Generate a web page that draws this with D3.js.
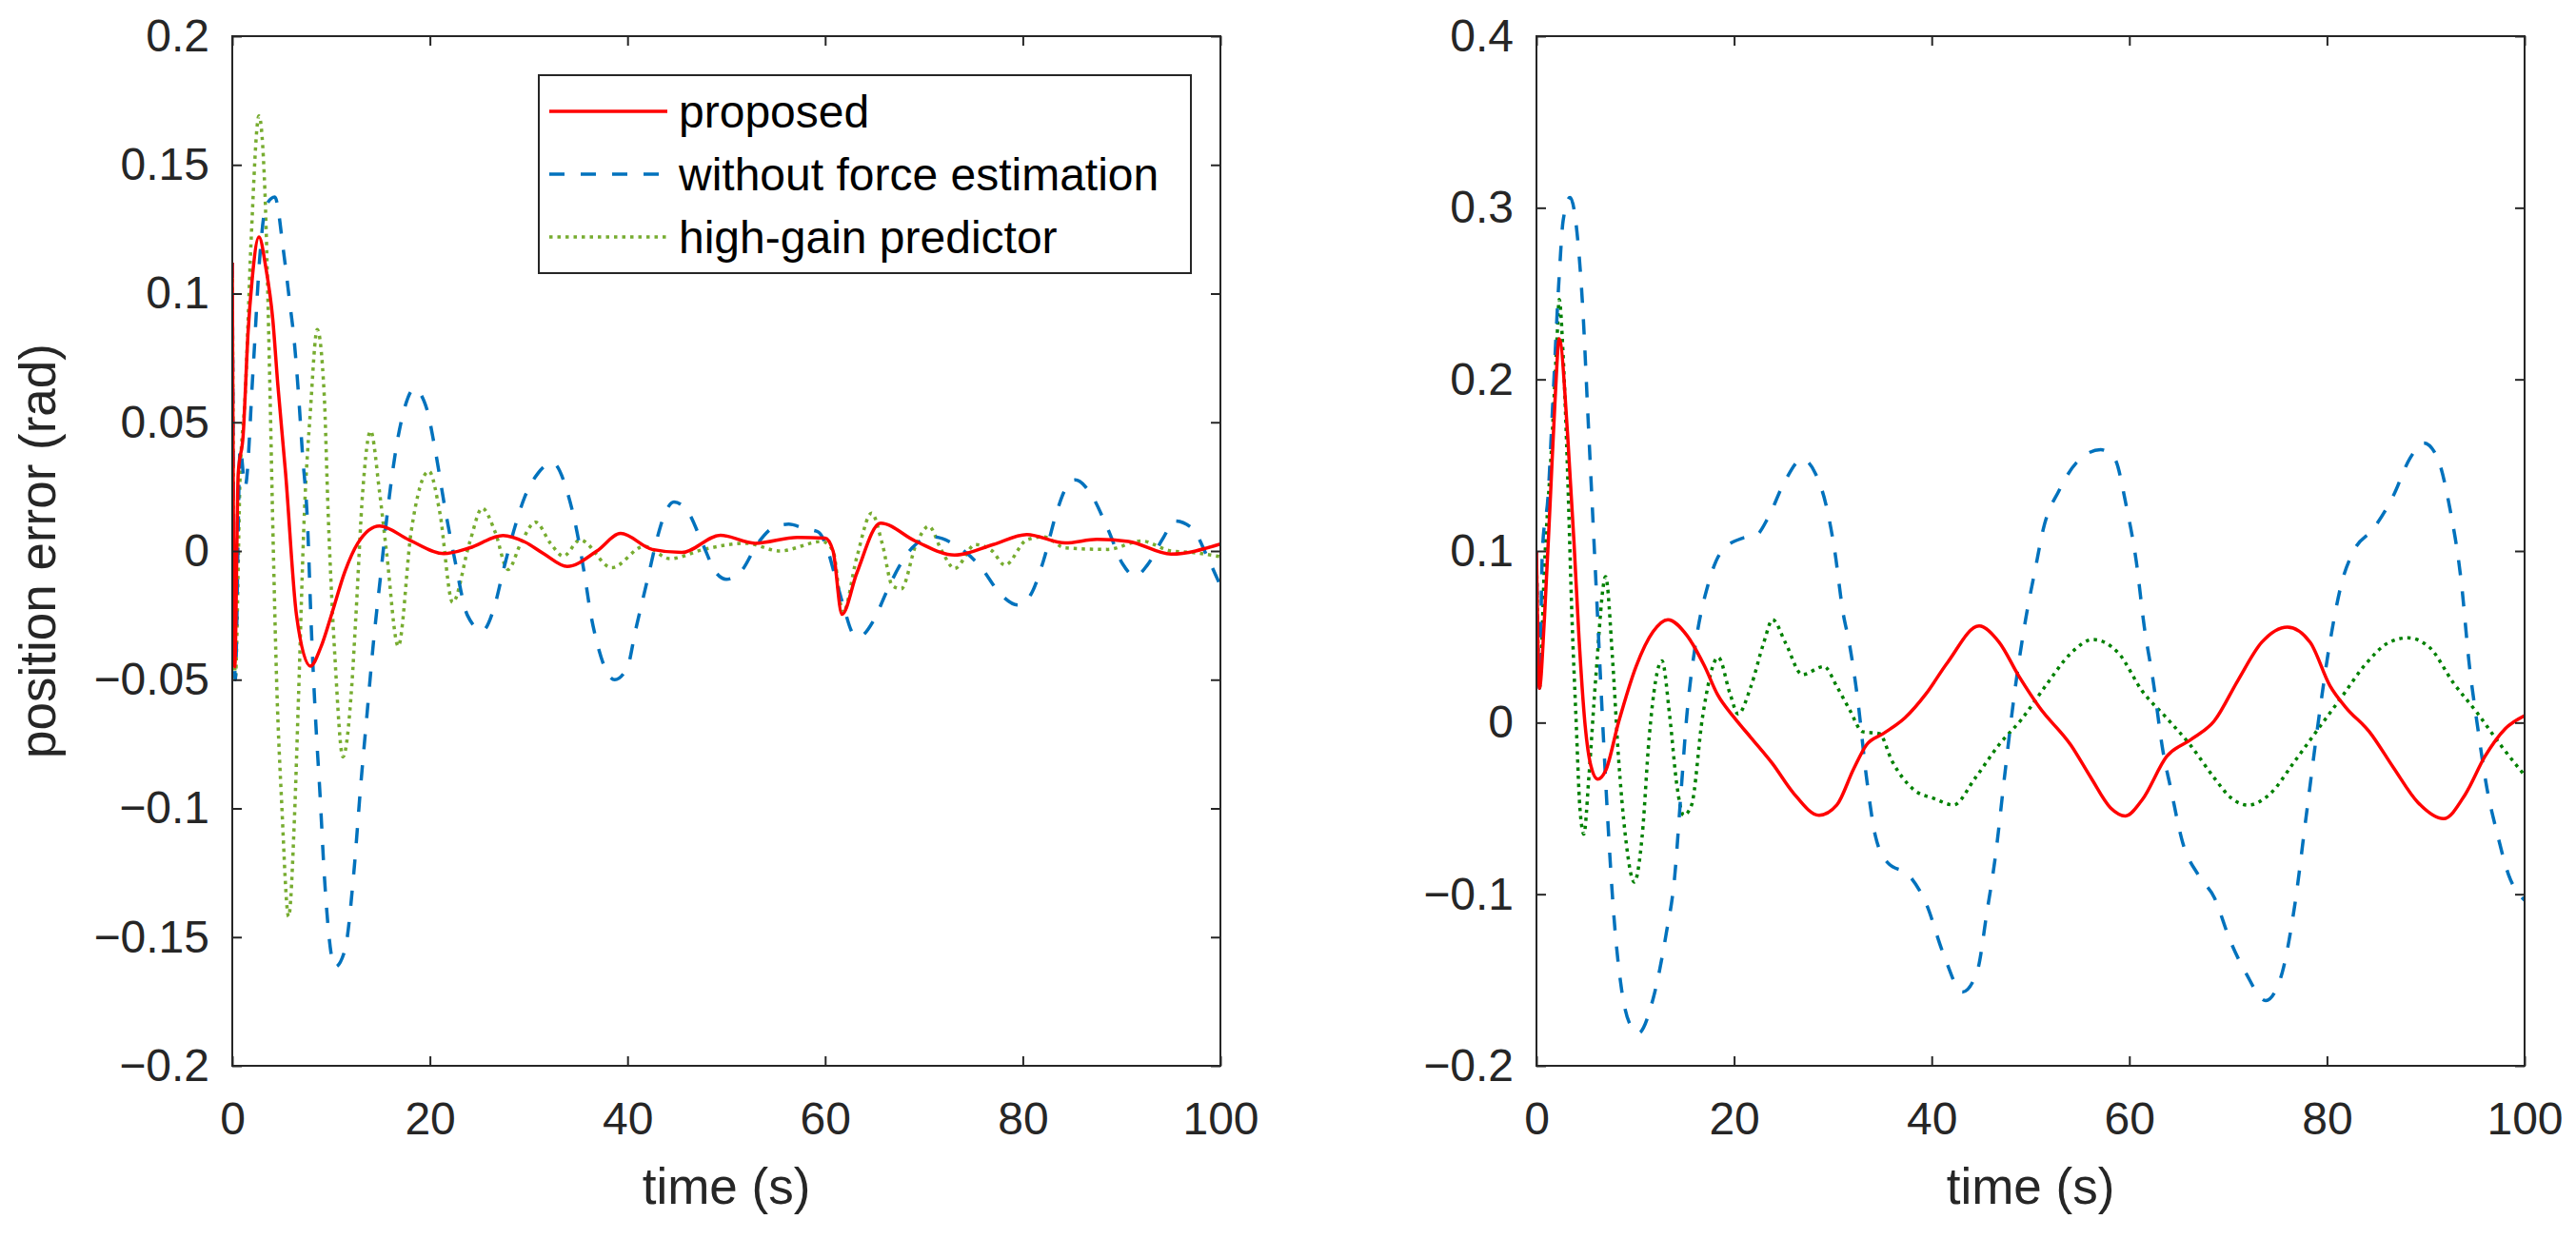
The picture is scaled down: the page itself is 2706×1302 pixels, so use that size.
<!DOCTYPE html>
<html>

<head>
    <meta charset="UTF-8">
    <title>Position error comparison</title>
    <script src="https://cdn.jsdelivr.net/npm/d3@7/dist/d3.min.js"></script>
    <style>
        body,
        html {
            margin: 0;
            padding: 0;
            background: #fff;
        }

        text {
            font-family: "Liberation Sans", Arial, sans-serif;
        }
    </style>
</head>

<body>
    <svg id="chart" width="2706" height="1302"></svg>

    <script>
        // series names (legend order)
        var seriesNames = ["proposed", "without force estimation", "high-gain predictor"];

        // left panel
        var leftProposedT = [0, 0.25, 0.6, 1.1, 1.6, 2.0, 2.7, 3.4, 4.1, 4.6, 5.4, 6.5, 7.9, 9.0, 10.1, 11.4, 12.7, 14.9, 17.9, 21.4, 24, 27.4, 29.6, 31.5, 33.9, 36.9, 39.3, 42.5, 45.5, 49.4, 52.9, 57.2, 60, 60.8, 61.7, 63.2, 65.6, 69.2, 73.1, 77, 80.4, 84.3, 87.5, 90.7, 95, 100];
        var leftProposedV = [0.112, -0.045, 0.03, 0.045, 0.085, 0.105, 0.122, 0.11, 0.09, 0.065, 0.03, -0.025, -0.0447, -0.037, -0.024, -0.008, 0.003, 0.0097, 0.0043, -0.001, 0.0012, 0.006, 0.0035, -0.001, -0.006, 0, 0.0068, 0.0006, -0.0006, 0.0061, 0.003, 0.0053, 0.005, 0.0, -0.0246, -0.0086, 0.0108, 0.0037, -0.0016, 0.0025, 0.0064, 0.0031, 0.0045, 0.0037, -0.0012, 0.0027];

        var leftNoEstT = [0, 0.3, 0.8, 1.3, 2.1, 2.8, 3.4, 4.3, 5.2, 5.8, 6.26, 6.7, 7.1, 7.6, 8, 8.4, 8.9, 9.3, 10.4, 11.4, 12.3, 13, 13.6, 14.3, 15.0, 15.7, 16.5, 17.4, 18.4, 19.7, 20.5, 21.6, 22.5, 23.8, 25.3, 26.5, 27.4, 28.5, 29.6, 30.9, 32.4, 33.9, 34.8, 35.6, 36.3, 36.9, 38.7, 40, 40.8, 42.1, 43, 43.8, 44.7, 46.2, 47.5, 49, 50, 51.6, 53.1, 55, 56.3, 58, 59.3, 60.2, 61, 61.9, 62.8, 63.4, 64.9, 66.2, 67.5, 68.8, 70.9, 73.1, 75.7, 77.8, 79.5, 80.8, 82.1, 83.4, 84.3, 85.3, 86.8, 88.6, 90.1, 91.4, 92.6, 94.2, 95.4, 97.2, 98.7, 100];
        var leftNoEstV = [0.112, -0.05, 0.04, 0.025, 0.07, 0.115, 0.134, 0.1375, 0.116, 0.097, 0.082, 0.061, 0.038, 0.012, -0.03, -0.063, -0.096, -0.125, -0.1616, -0.155, -0.125, -0.091, -0.065, -0.035, -0.01, 0.015, 0.038, 0.055, 0.063, 0.055, 0.04, 0.015, -0.003, -0.025, -0.031, -0.022, -0.008, 0.008, 0.021, 0.030, 0.0343, 0.023, 0.009, -0.008, -0.025, -0.0355, -0.050, -0.045, -0.031, -0.0098, 0.005, 0.0147, 0.019, 0.0147, 0.0037, -0.0086, -0.011, -0.0074, 0.0025, 0.0096, 0.0104, 0.0086, 0.0074, 0.001, -0.0098, -0.022, -0.032, -0.0334, -0.027, -0.016, -0.006, 0.0012, 0.0055, 0.0025, -0.006, -0.017, -0.021, -0.017, -0.0037, 0.0147, 0.024, 0.0276, 0.0227, 0.0086, -0.005, -0.0098, -0.0055, 0.005, 0.0117, 0.0086, -0.0025, -0.0135];

        var leftHighGainT = [0, 0.3, 0.8, 1.3, 1.9, 2.7, 3.3, 3.8, 4.1, 4.5, 5.0, 5.7, 6.3, 6.7, 7.3, 7.9, 8.6, 9.3, 9.7, 10.4, 11.2, 12.1, 12.5, 13.2, 14.0, 14.9, 15.6, 16.8, 18.1, 19.9, 21.0, 22.3, 24, 25.3, 26.6, 27.9, 29.2, 30.7, 32.2, 33.5, 35.2, 38.4, 41.7, 44.3, 47.7, 52, 55.4, 59.7, 60.8, 61.8, 63.2, 64.7, 65.8, 66.8, 67.7, 69.2, 70.5, 71.8, 73.1, 75.2, 76.9, 78.2, 80.4, 82.1, 84.3, 88.6, 92, 95, 97.2, 100];
        var leftHighGainV = [0.112, -0.05, 0.03, 0.06, 0.12, 0.169, 0.14, 0.065, 0.01, -0.052, -0.098, -0.142, -0.103, -0.057, 0.015, 0.054, 0.086, 0.061, 0.015, -0.042, -0.080, -0.052, -0.026, 0.023, 0.0466, 0.023, 0.0, -0.037, 0.0074, 0.031, 0.015, -0.02, 0.003, 0.0166, 0.0074, -0.0072, 0.003, 0.0112, 0.003, -0.002, 0.0043, -0.0065, 0.0018, -0.003, 0.0006, 0.003, 0, 0.0037, 0, -0.024, -0.0025, 0.0147, 0.0025, -0.0135, -0.0147, 0.0025, 0.0096, 0, -0.0068, 0.0025, 0, -0.0055, 0.0043, 0.0055, 0.0012, 0.0006, 0.0039, 0, -0.0006, -0.0022];

        // right panel
        var rightProposedT = [0, 0.3, 0.8, 1.4, 1.9, 2.3, 3.15, 3.8, 4.3, 4.9, 5.5, 6.2, 7.0, 8.3, 10.1, 11.8, 13.3, 15.2, 17, 18.3, 20, 21.7, 23.9, 26, 28.6, 30.4, 32.1, 33.4, 35.1, 37.3, 39.4, 41.6, 44.8, 46.8, 48.9, 50.9, 54.1, 56.1, 58.1, 59.6, 61.3, 63.8, 66.2, 68.6, 71, 73.4, 76, 78.3, 80.3, 81.9, 84.3, 86.7, 89.2, 91.8, 94, 96, 98, 100];
        var rightProposedV = [0.1, 0.02, 0.06, 0.13, 0.19, 0.2236, 0.168, 0.105, 0.05, 0.0, -0.025, -0.033, -0.028, 0.0, 0.033, 0.053, 0.060, 0.051, 0.033, 0.0166, 0.003, -0.0087, -0.024, -0.041, -0.054, -0.048, -0.027, -0.013, -0.0064, 0.0028, 0.0166, 0.035, 0.0563, 0.047, 0.0263, 0.0089, -0.0133, -0.032, -0.0497, -0.0544, -0.045, -0.0196, -0.010, 0.001, 0.0247, 0.0468, 0.0557, 0.0468, 0.0215, 0.0089, -0.0054, -0.026, -0.0465, -0.056, -0.0418, -0.0196, -0.0038, 0.004];

        var rightNoEstT = [0, 0.3, 0.6, 1.2, 1.6, 2.3, 2.7, 3.4, 4.2, 4.7, 5.2, 5.7, 6.2, 6.7, 7.2, 7.8, 8.6, 9.4, 10.3, 11.8, 13.1, 14, 14.6, 15.2, 16.1, 17.4, 18.7, 20.9, 22.2, 23.5, 25, 26.9, 28.2, 29.3, 30.2, 31, 31.7, 32.5, 33.4, 34.3, 35.6, 37.7, 39.4, 41.2, 43.1, 44.6, 45.6, 46.4, 47.4, 48.4, 49.5, 50.5, 51.3, 52.9, 54.9, 57.1, 58.5, 59.7, 60.7, 61.5, 62.4, 63.4, 64.2, 65.4, 67, 68.6, 70.2, 71.8, 73.8, 75.3, 76.7, 77.9, 79.1, 80.3, 81.5, 82.7, 84.7, 86.7, 88.4, 89.8, 91.2, 92.4, 93.6, 94.4, 95.2, 96.2, 97.2, 98.4, 100];
        var rightNoEstV = [0.1, 0.02, 0.1, 0.134, 0.18, 0.26, 0.2925, 0.306, 0.28, 0.24, 0.18, 0.12, 0.06, 0.0, -0.055, -0.11, -0.155, -0.175, -0.181, -0.161, -0.124, -0.089, -0.043, 0.003, 0.046, 0.081, 0.0995, 0.1076, 0.109, 0.12, 0.139, 0.1535, 0.1455, 0.127, 0.0995, 0.065, 0.045, 0.014, -0.032, -0.066, -0.082, -0.089, -0.105, -0.135, -0.157, -0.145, -0.11, -0.08, -0.03, 0.018, 0.06, 0.09, 0.113, 0.1354, 0.153, 0.159, 0.154, 0.126, 0.094, 0.0563, 0.0247, -0.0165, -0.0386, -0.070, -0.089, -0.102, -0.127, -0.146, -0.162, -0.149, -0.108, -0.0544, -0.0006, 0.0468, 0.0816, 0.100, 0.113, 0.132, 0.154, 0.163, 0.154, 0.126, 0.0816, 0.034, -0.0006, -0.0386, -0.064, -0.089, -0.1035];

        var rightHighGainT = [0, 0.3, 0.8, 1.6, 2.1, 2.3, 2.7, 3.15, 3.6, 4.0, 4.4, 4.8, 5.3, 6.0, 7.0, 7.7, 8.3, 9.0, 9.9, 10.7, 11.4, 12.7, 13.5, 14.2, 14.9, 15.7, 16.8, 18.4, 19.6, 20.4, 21.7, 23, 23.9, 25.2, 26.9, 29.1, 30.4, 31.7, 33, 34.7, 36, 38.1, 40.3, 42.2, 44.4, 46.8, 49.1, 51.6, 54.1, 56.3, 58.9, 61.3, 63.8, 66.2, 68.6, 70.2, 72, 74.2, 76.7, 79.1, 81.5, 83.9, 86.3, 88.2, 90.4, 92.8, 95.2, 97.6, 100];
        var rightHighGainV = [0.1, 0.02, 0.09, 0.168, 0.226, 0.2465, 0.214, 0.1455, 0.06, 0.003, -0.05, -0.065, -0.032, 0.026, 0.085, 0.037, -0.02, -0.066, -0.093, -0.066, -0.009, 0.036, 0.003, -0.036, -0.054, -0.048, 0.003, 0.038, 0.0166, 0.005, 0.021, 0.0465, 0.060, 0.0465, 0.028, 0.0327, 0.021, 0.0074, -0.0053, -0.0064, -0.0226, -0.0387, -0.0444, -0.048, -0.0323, -0.013, 0.002, 0.022, 0.0405, 0.0484, 0.0405, 0.0184, 0.0025, -0.0133, -0.0323, -0.0434, -0.0481, -0.0418, -0.0228, -0.0038, 0.015, 0.034, 0.0468, 0.0494, 0.0437, 0.0231, 0.0057, -0.0133, -0.0307];

        // tick values
        var xTicks = [0, 20, 40, 60, 80, 100];
        var leftYTicks = [-0.2, -0.15, -0.1, -0.05, 0, 0.05, 0.1, 0.15, 0.2];
        var rightYTicks = [-0.2, -0.1, 0, 0.1, 0.2, 0.3, 0.4];

        var axisColor = "#262626";
        var svg = d3.select("#chart");

        function fmt(d) {
            var s = String(Math.abs(Math.round(d * 1000) / 1000));
            return d < 0 ? "\u2212" + s : s;
        }

        function drawPanel(id, left, yDomain, yTicks, series, greenColor) {
            var top = 38, bottom = 1120, width = 1038;

            var x = d3.scaleLinear().domain([0, 100]).range([left, left + width]);
            var y = d3.scaleLinear().domain(yDomain).range([bottom, top]);

            svg.append("clipPath").attr("id", "clip-" + id)
                .append("rect")
                .attr("x", left).attr("y", top)
                .attr("width", width).attr("height", bottom - top);

            var styles = [
                { color: "#FF0000", dash: null },
                { color: "#0072BD", dash: "16,17" },
                { color: greenColor, dash: "3.5,5" }
            ];

            var line = d3.line()
                .x(function (d) { return x(d[0]); })
                .y(function (d) { return y(d[1]); })
                .curve(d3.curveMonotoneX);

            var g = svg.append("g").attr("clip-path", "url(#clip-" + id + ")");
            // draw green first, then blue, red on top
            [2, 1, 0].forEach(function (i) {
                var pts = d3.zip(series[i][0], series[i][1]);
                g.append("path")
                    .datum(pts)
                    .attr("d", line)
                    .attr("fill", "none")
                    .attr("stroke", styles[i].color)
                    .attr("stroke-width", 3.5)
                    .attr("stroke-dasharray", styles[i].dash);
            });

            // axes with inward ticks
            var bottomAxis = svg.append("g")
                .attr("transform", "translate(0," + bottom + ")")
                .call(d3.axisBottom(x).tickValues(xTicks).tickFormat(d3.format("d"))
                    .tickSizeInner(-10).tickSizeOuter(0).tickPadding(38));
            var leftAxis = svg.append("g")
                .attr("transform", "translate(" + left + ",0)")
                .call(d3.axisLeft(y).tickValues(yTicks).tickFormat(fmt)
                    .tickSizeInner(-10).tickSizeOuter(0).tickPadding(24));
            var topAxis = svg.append("g")
                .attr("transform", "translate(0," + top + ")")
                .call(d3.axisTop(x).tickValues(xTicks).tickFormat("")
                    .tickSizeInner(-10).tickSizeOuter(0));
            var rightAxis = svg.append("g")
                .attr("transform", "translate(" + (left + width) + ",0)")
                .call(d3.axisRight(y).tickValues(yTicks).tickFormat("")
                    .tickSizeInner(-10).tickSizeOuter(0));

            [bottomAxis, leftAxis, topAxis, rightAxis].forEach(function (a) {
                a.select(".domain").remove();
                a.selectAll("line").attr("stroke", axisColor).attr("stroke-width", 2);
                a.selectAll("text")
                    .attr("fill", axisColor)
                    .attr("font-size", "48px")
                    .attr("font-family", "'Liberation Sans', Arial, sans-serif");
            });

            svg.append("rect")
                .attr("x", left).attr("y", top)
                .attr("width", width).attr("height", bottom - top)
                .attr("fill", "none")
                .attr("stroke", axisColor)
                .attr("stroke-width", 2);

            svg.append("text")
                .text("time (s)")
                .attr("x", left + width / 2)
                .attr("y", 1265)
                .attr("text-anchor", "middle")
                .attr("fill", axisColor)
                .attr("font-size", "53px");

            return { x: x, y: y, styles: styles };
        }

        var leftPanel = drawPanel("left", 244, [-0.2, 0.2], leftYTicks, [
            [leftProposedT, leftProposedV],
            [leftNoEstT, leftNoEstV],
            [leftHighGainT, leftHighGainV]
        ], "#77AC30");

        drawPanel("right", 1614, [-0.2, 0.4], rightYTicks, [
            [rightProposedT, rightProposedV],
            [rightNoEstT, rightNoEstV],
            [rightHighGainT, rightHighGainV]
        ], "#008000");

        svg.append("text")
            .text("position error (rad)")
            .attr("transform", "translate(58,579) rotate(-90)")
            .attr("text-anchor", "middle")
            .attr("fill", axisColor)
            .attr("font-size", "53px");

        // legend
        var legend = svg.append("g");
        legend.append("rect")
            .attr("x", 566).attr("y", 79)
            .attr("width", 685).attr("height", 208)
            .attr("fill", "#fff")
            .attr("stroke", axisColor)
            .attr("stroke-width", 2);

        var rowY = d3.scalePoint().domain(seriesNames).range([117, 249]);

        seriesNames.forEach(function (name, i) {
            var st = leftPanel.styles[i];
            legend.append("line")
                .attr("x1", 577).attr("x2", 701)
                .attr("y1", rowY(name)).attr("y2", rowY(name))
                .attr("stroke", st.color)
                .attr("stroke-width", 3.5)
                .attr("stroke-dasharray", st.dash);
            legend.append("text")
                .text(name)
                .attr("x", 713)
                .attr("y", rowY(name))
                .attr("dy", "0.36em")
                .attr("fill", "#000")
                .attr("font-size", "48px");
        });
    </script>
</body>

</html>
